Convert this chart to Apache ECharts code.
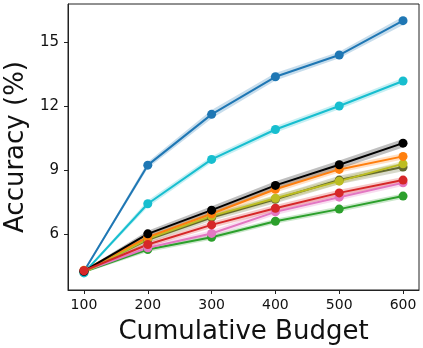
<!DOCTYPE html>
<html>
<head>
<meta charset="utf-8">
<script src="https://cdn.jsdelivr.net/npm/echarts@6/dist/echarts.min.js"></script>
<style>
  html, body { margin: 0; padding: 0; background: #fff; }
  #chart { width: 423px; height: 348px; }
</style>
</head>
<body>
<div id="chart"></div>
<script>
// budgets on the x axis
var budgets = [100, 200, 300, 400, 500, 600];
var xTicks = [100, 200, 300, 400, 500, 600];
var yTicks = [6, 9, 12, 15];

// accuracy (%) per method
var greenVals  = [4.25, 5.30, 5.87, 6.62, 7.19, 7.80];
var pinkVals   = [4.27, 5.38, 6.05, 7.06, 7.75, 8.42];
var grayVals   = [4.28, 5.75, 6.80, 7.65, 8.55, 9.16];
var oliveVals  = [4.22, 5.80, 6.86, 7.70, 8.50, 9.31];
var orangeVals = [4.33, 5.88, 6.97, 8.12, 9.05, 9.66];
var cyanVals   = [4.20, 7.44, 9.52, 10.92, 12.02, 13.19];
var blueVals   = [4.28, 9.25, 11.63, 13.39, 14.41, 16.02];
var blackVals  = [4.28, 6.03, 7.14, 8.30, 9.27, 10.28];
var redVals    = [4.30, 5.53, 6.45, 7.23, 7.95, 8.55];

// half widths of the shaded bands
var greenErr  = [0.05, 0.12, 0.12, 0.12, 0.12, 0.12];
var pinkErr   = [0.05, 0.12, 0.15, 0.15, 0.15, 0.15];
var grayErr   = [0.05, 0.15, 0.15, 0.18, 0.2, 0.2];
var oliveErr  = [0.05, 0.12, 0.12, 0.15, 0.15, 0.15];
var orangeErr = [0.05, 0.12, 0.15, 0.15, 0.15, 0.15];
var cyanErr   = [0.05, 0.15, 0.15, 0.15, 0.15, 0.15];
var blueErr   = [0.05, 0.15, 0.2, 0.18, 0.15, 0.2];
var blackErr  = [0.05, 0.15, 0.18, 0.2, 0.2, 0.2];
var redErr    = [0.05, 0.12, 0.15, 0.15, 0.15, 0.15];

var methods = [
  { key: 'green',  color: '#2ca02c', vals: greenVals,  err: greenErr },
  { key: 'pink',   color: '#e377c2', vals: pinkVals,   err: pinkErr },
  { key: 'gray',   color: '#62682f', vals: grayVals,   err: grayErr },
  { key: 'olive',  color: '#bcbd22', vals: oliveVals,  err: oliveErr },
  { key: 'orange', color: '#ff7f0e', vals: orangeVals, err: orangeErr },
  { key: 'cyan',   color: '#17becf', vals: cyanVals,   err: cyanErr },
  { key: 'blue',   color: '#1f77b4', vals: blueVals,   err: blueErr },
  { key: 'black',  color: '#000000', vals: blackVals,  err: blackErr },
  { key: 'red',    color: '#d62728', vals: redVals,    err: redErr }
];

// shaded band: one polygon drawn when the first row comes in
function bandRenderer(color) {
  return function (params, api) {
    if (params.dataIndexInside !== 0) return;
    var n = params.dataInsideLength;
    var upper = [], lower = [];
    for (var i = 0; i < n; i++) {
      var x = api.value(0, i);
      upper.push(api.coord([x, api.value(2, i)]));
      lower.unshift(api.coord([x, api.value(1, i)]));
    }
    return {
      type: 'polygon',
      shape: { points: upper.concat(lower) },
      style: { fill: color, opacity: 0.25 }
    };
  };
}

var series = [];
methods.forEach(function (m) {
  series.push({
    type: 'custom', silent: true, z: 1,
    renderItem: bandRenderer(m.color),
    encode: { x: 0, y: [1, 2] },
    data: budgets.map(function (b, i) { return [b, m.vals[i] - m.err[i], m.vals[i] + m.err[i]]; })
  });
});
methods.forEach(function (m) {
  series.push({
    type: 'line', name: m.key, symbol: 'circle', symbolSize: 9, z: 2,
    lineStyle: { color: m.color, width: 2 },
    itemStyle: { color: m.color },
    data: budgets.map(function (b, i) { return [b, m.vals[i]]; })
  });
});

var chart = echarts.init(document.getElementById('chart'));
chart.setOption({
  animation: false,
  grid: {
    left: 68, right: 4, top: 4, bottom: 58, outerBoundsMode: 'none',
    show: true, borderColor: '#222', borderWidth: 1
  },
  xAxis: {
    type: 'value', min: 75, max: 625,
    name: 'Cumulative Budget', nameLocation: 'middle', nameGap: 29,
    nameTextStyle: { fontFamily: 'DejaVu Sans', fontSize: 26, color: '#111' },
    axisLine: { lineStyle: { color: '#222' } },
    axisTick: { customValues: xTicks, length: 4, lineStyle: { color: '#222' } },
    axisLabel: { customValues: xTicks, fontFamily: 'DejaVu Sans', fontSize: 14, color: '#111', margin: 8 },
    splitLine: { show: false }
  },
  yAxis: {
    type: 'value', min: 3.4, max: 16.8,
    name: 'Accuracy (%)', nameLocation: 'middle', nameGap: 35,
    nameTextStyle: { fontFamily: 'DejaVu Sans', fontSize: 26, color: '#111' },
    axisLine: { show: true, lineStyle: { color: '#222' } },
    axisTick: { show: true, customValues: yTicks, length: 4, lineStyle: { color: '#222' } },
    axisLabel: { customValues: yTicks, fontFamily: 'DejaVu Sans', fontSize: 15, color: '#111', margin: 9 },
    splitLine: { show: false }
  },
  series: series
});
</script>
</body>
</html>
